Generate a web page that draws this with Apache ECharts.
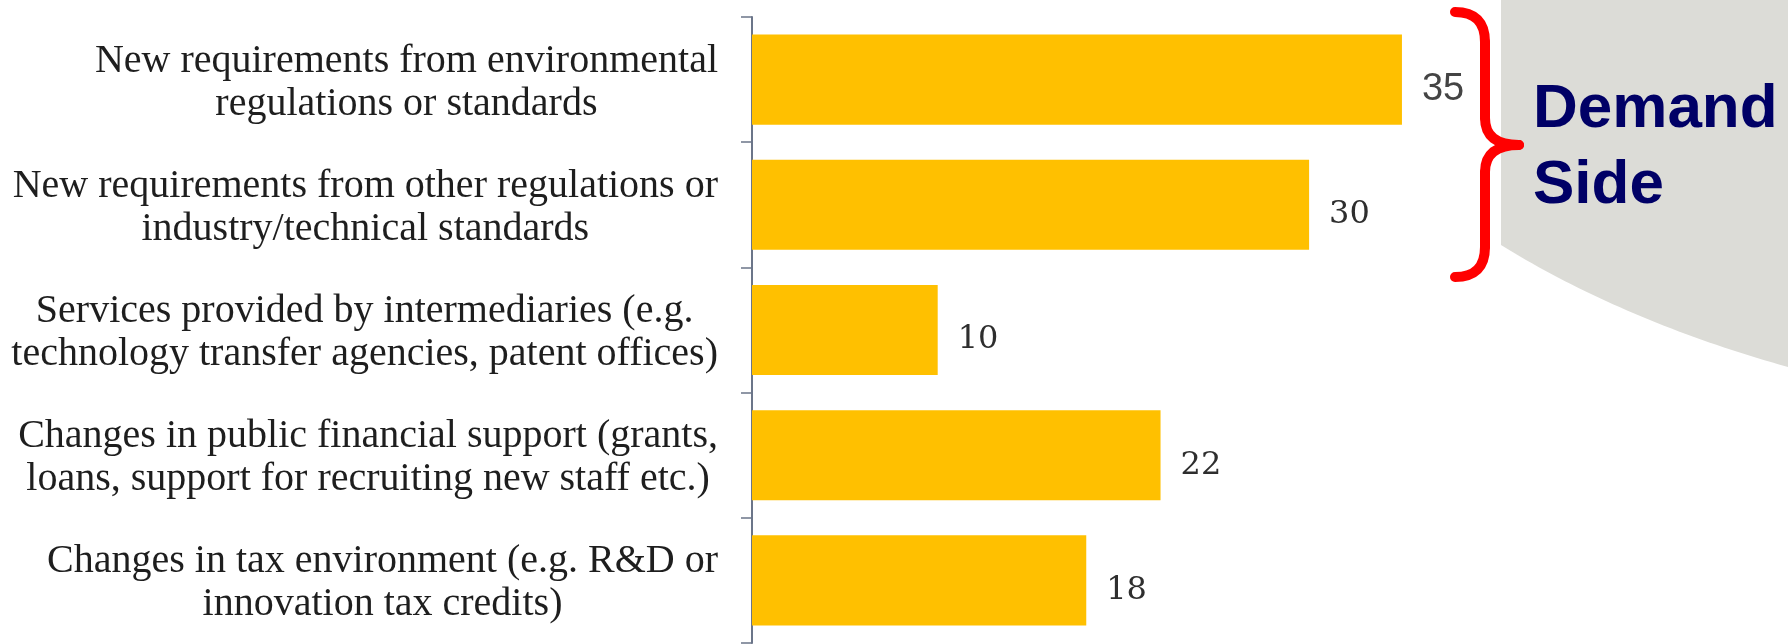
<!DOCTYPE html>
<html>
<head>
<meta charset="utf-8">
<script src="https://cdn.jsdelivr.net/npm/echarts@6/dist/echarts.min.js"></script>
<style>
html,body{margin:0;padding:0;background:#fff;}
#chart{width:1788px;height:644px;}
</style>
</head>
<body>
<div id="chart"></div>
<script>
const categories = [
  "New requirements from environmental\nregulations or standards",
  "New requirements from other regulations or\nindustry/technical standards",
  "Services provided by intermediaries (e.g.\ntechnology transfer agencies, patent offices)",
  "Changes in public financial support (grants,\nloans, support for recruiting new staff etc.)",
  "Changes in tax environment (e.g. R&D or\ninnovation tax credits)"
];
const values = [35, 30, 10, 22, 18];
const annotationLines = ["Demand", "Side"];

const chart = echarts.init(document.getElementById('chart'), null, {renderer: 'canvas'});

const seriesData = values.map((v, i) => i === 0
  ? {value: v, label: {fontFamily: 'Liberation Sans', fontSize: 38, color: '#444'}}
  : v);

// background decoration (slide shape): vertical edge then a gentle curve
function quadPts(p0, c, p1, n) {
  const pts = [];
  for (let i = 0; i <= n; i++) {
    const t = i / n, u = 1 - t;
    pts.push([u*u*p0[0] + 2*u*t*c[0] + t*t*p1[0], u*u*p0[1] + 2*u*t*c[1] + t*t*p1[1]]);
  }
  return pts;
}
const bgPts = [[1501, 0], [1788, 0]].concat(quadPts([1788, 367], [1624, 321], [1501, 245], 40));

const braceStyle = {stroke: '#ff0000', lineWidth: 10, fill: null, lineCap: 'round'};
const braceParts = [
  {type: 'bezierCurve', shape: {x1: 1455, y1: 12, cpx1: 1485, cpy1: 12, x2: 1485, y2: 42}},
  {type: 'line', shape: {x1: 1485, y1: 42, x2: 1485, y2: 118}},
  {type: 'bezierCurve', shape: {x1: 1485, y1: 118, cpx1: 1485, cpy1: 145, x2: 1519, y2: 145}},
  {type: 'bezierCurve', shape: {x1: 1519, y1: 145, cpx1: 1485, cpy1: 145, x2: 1485, y2: 172}},
  {type: 'line', shape: {x1: 1485, y1: 172, x2: 1485, y2: 247}},
  {type: 'bezierCurve', shape: {x1: 1485, y1: 247, cpx1: 1485, cpy1: 277, x2: 1455, y2: 277}}
].map(p => Object.assign(p, {z: 10, style: braceStyle}));

const option = {
  animation: false,
  backgroundColor: '#ffffff',
  graphic: [
    {type: 'polygon', z: -10, shape: {points: bgPts}, style: {fill: '#dcdcd7'}}
  ].concat(braceParts).concat([
    {
      type: 'text', z: 10, x: 1533, y: 110,
      style: {text: annotationLines[0], font: 'bold 62px "Liberation Sans"', fill: '#000066', verticalAlign: 'middle', align: 'left'}
    },
    {
      type: 'text', z: 10, x: 1533, y: 186,
      style: {text: annotationLines[1], font: 'bold 62px "Liberation Sans"', fill: '#000066', verticalAlign: 'middle', align: 'left'}
    }
  ]),
  grid: {left: 752, top: 17, width: 928.5, height: 626, containLabel: false},
  xAxis: {
    type: 'value', min: 0, max: 50, show: false,
    splitLine: {show: false}
  },
  yAxis: {
    type: 'category', inverse: true, data: categories,
    axisLine: {show: true, lineStyle: {color: '#6b7589', width: 2}},
    axisTick: {show: true, length: 11, lineStyle: {color: '#6b7589', width: 1.5}},
    axisLabel: {
      margin: 34,
      padding: [6, 0, 0, 0],
      formatter: function (v) {
        return v.split('\n').map(s => '{c|' + s + '}').join('\n');
      },
      rich: {
        c: {align: 'center', fontFamily: 'Liberation Serif', fontSize: 40, lineHeight: 43, color: '#1e1e1e'}
      }
    }
  },
  series: [{
    type: 'bar',
    data: seriesData,
    barCategoryGap: '28%',
    itemStyle: {color: '#ffc000'},
    label: {
      show: true, position: 'right', distance: 20, offset: [0, 10],
      fontFamily: 'DejaVu Serif', fontSize: 32, color: '#2e2e2e'
    }
  }]
};
chart.setOption(option);
</script>
</body>
</html>
